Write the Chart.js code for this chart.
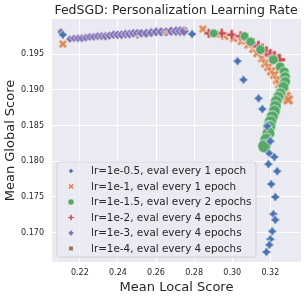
<!DOCTYPE html>
<html><head><meta charset="utf-8">
<script src="https://cdn.jsdelivr.net/npm/chart.js@4.4.0/dist/chart.umd.min.js"></script>
<style>html,body{margin:0;padding:0;background:#fff;}#wrap{width:307px;height:299px;position:relative;}</style>
</head><body><div id="wrap"><canvas id="c" width="307" height="299"></canvas></div>
<script>
// ---------- data ----------
const seriesLabels = [
  "lr=1e-0.5, eval every 1 epoch",
  "lr=1e-1, eval every 1 epoch",
  "lr=1e-1.5, eval every 2 epochs",
  "lr=1e-2, eval every 4 epochs",
  "lr=1e-3, eval every 4 epochs",
  "lr=1e-4, eval every 4 epochs"
];
const xTicks = [0.22, 0.24, 0.26, 0.28, 0.30, 0.32];
const yTicks = [0.170, 0.175, 0.180, 0.185, 0.190, 0.195];

const lr05Local  = [0.2111,0.2789,0.3028,0.3059,0.3138,0.3158,0.3184,0.3200,0.3195,0.3221,0.3190,0.3236,0.3205,0.3226,0.3216,0.3226,0.3210,0.3200,0.3195,0.3179];
const lr05Global = [0.1977,0.1978,0.1940,0.1914,0.1888,0.1873,0.1849,0.1828,0.1811,0.1806,0.1796,0.1786,0.1768,0.1750,0.1726,0.1718,0.1702,0.1691,0.1683,0.1673];

const lr1Local  = [0.2111,0.2648,0.2846,0.2914,0.2960,0.3007,0.3049,0.3085,0.3111,0.3132,0.3158,0.3174,0.3190,0.3205,0.3221,0.3236,0.3247,0.3257,0.3273,0.3283,0.3294];
const lr1Global = [0.1964,0.1980,0.1985,0.1978,0.1975,0.1972,0.1968,0.1963,0.1957,0.1951,0.1944,0.1937,0.1932,0.1926,0.1921,0.1914,0.1908,0.1902,0.1897,0.1891,0.1886];

const lr15Local  = [0.2903,0.3065,0.3096,0.3148,0.3216,0.3252,0.3273,0.3278,0.3278,0.3268,0.3252,0.3242,0.3231,0.3226,0.3221,0.3210,0.3200,0.3195,0.3190,0.3179,0.3169];
const lr15Global = [0.1979,0.1975,0.1967,0.1956,0.1942,0.1932,0.1925,0.1918,0.1911,0.1904,0.1895,0.1890,0.1884,0.1877,0.1870,0.1862,0.1855,0.1848,0.1839,0.1830,0.1821];

const lr2Local  = [0.2502,0.2757,0.2877,0.2945,0.2997,0.3044,0.3075,0.3111,0.3138,0.3158,0.3179,0.3200,0.3221,0.3247];
const lr2Global = [0.1973,0.1986,0.1979,0.1979,0.1977,0.1975,0.1971,0.1965,0.1961,0.1957,0.1953,0.1949,0.1946,0.1942];

const lr3Local  = [0.2101,0.2148,0.2169,0.2190,0.2210,0.2231,0.2252,0.2273,0.2294,0.2315,0.2335,0.2356,0.2377,0.2398,0.2419,0.2440,0.2460,0.2481,0.2502,0.2523,0.2549,0.2575,0.2601,0.2627,0.2653,0.2679,0.2705,0.2726,0.2747];
const lr3Global = [0.1981,0.1971,0.1972,0.1972,0.1972,0.1973,0.1974,0.1974,0.1975,0.1975,0.1975,0.1976,0.1977,0.1977,0.1977,0.1978,0.1978,0.1979,0.1979,0.1979,0.1979,0.1980,0.1981,0.1981,0.1981,0.1982,0.1982,0.1982,0.1982];

const lr4Local  = [0.2101];
const lr4Global = [0.1981];

// ---------- styling ----------
const colors = ['#4c72b0','#dd8452','#55a868','#c44e52','#8172b3','#937860'];
const shapes = ['star4','x','circle','plus','diamond','square'];
const sizeRange = [[10.5,10.5],[9.5,12],[9,13.5],[9.5,12.5],[8.5,11],[8,8]];
const tinyIdx = [[],[1],[],[0,1],[],[]];
const drawOrder = [0,3,1,2,4,5];
const FONT = "'DejaVu Sans', sans-serif";
const TEXT = '#262626';

function polyPath(ctx, pts, x, y) {
  pts.forEach((p,i) => i ? ctx.lineTo(x+p[0], y+p[1]) : ctx.moveTo(x+p[0], y+p[1]));
  ctx.closePath();
}
function markerPath(ctx, shape, x, y, s) {
  const r = s/2;
  ctx.beginPath();
  if (shape === 'circle') { ctx.arc(x, y, r, 0, Math.PI*2); return; }
  if (shape === 'star4') {
    const pts = [];
    for (let i = 0; i < 8; i++) { const a = -Math.PI/2 + i*Math.PI/4; const rr = i%2 ? r*0.55 : r; pts.push([rr*Math.cos(a), rr*Math.sin(a)]); }
    polyPath(ctx, pts, x, y); return;
  }
  if (shape === 'diamond') { polyPath(ctx, [[0,-r],[r,0],[0,r],[-r,0]], x, y); return; }
  if (shape === 'square') { const q = r*0.75; polyPath(ctx, [[-q,-q],[q,-q],[q,q],[-q,q]], x, y); return; }
  const w = r/3;
  let pts = [[-w,-r],[w,-r],[w,-w],[r,-w],[r,w],[w,w],[w,r],[-w,r],[-w,w],[-r,w],[-r,-w],[-w,-w]];
  if (shape === 'x') {
    const c = Math.SQRT1_2;
    pts = pts.map(p => [(p[0]-p[1])*c, (p[0]+p[1])*c]);
  }
  polyPath(ctx, pts, x, y);
}
function drawMarker(ctx, shape, color, x, y, s) {
  markerPath(ctx, shape, x, y, s);
  ctx.fillStyle = color; ctx.fill();
  ctx.lineWidth = 0.7; ctx.strokeStyle = '#ffffff'; ctx.stroke();
}
const cache = {};
function markerCanvas(shape, color, s) {
  const key = shape + color + s.toFixed(1);
  if (cache[key]) return cache[key];
  const n = Math.ceil(s + 3);
  const cv = document.createElement('canvas'); cv.width = n; cv.height = n;
  drawMarker(cv.getContext('2d'), shape, color, n/2, n/2, s);
  return (cache[key] = cv);
}

const locals = [lr05Local, lr1Local, lr15Local, lr2Local, lr3Local, lr4Local];
const globals = [lr05Global, lr1Global, lr15Global, lr2Global, lr3Global, lr4Global];

const datasets = seriesLabels.map((lab, k) => ({
  label: lab,
  data: locals[k].map((v, i) => ({x: v, y: globals[k][i]})),
  order: drawOrder[k],
  pointStyle: ctx => {
    const n = locals[k].length;
    const [a, b] = sizeRange[k];
    let s = n > 1 ? a + (b - a) * ctx.dataIndex / (n - 1) : a;
    if (tinyIdx[k].includes(ctx.dataIndex)) s = 4;
    return markerCanvas(shapes[k], colors[k], s);
  },
  pointRadius: 5,
  showLine: false
}));

const bgPlugin = {
  id: 'bg',
  beforeDraw(chart) {
    const {ctx, chartArea: a} = chart;
    ctx.save(); ctx.fillStyle = '#eaeaf2';
    ctx.fillRect(a.left, a.top, a.right - a.left, a.bottom - a.top);
    ctx.restore();
  },
  afterDraw(chart) {
    const {ctx} = chart;
    ctx.save();
    ctx.fillStyle = TEXT; ctx.font = `12.5px ${FONT}`;
    ctx.textAlign = 'center'; ctx.textBaseline = 'middle';
    ctx.fillText('FedSGD: Personalization Learning Rate', 176, 10.5);
    // legend
    const bx = 57, by = 162, bw = 199, bh = 95, rr = 3;
    ctx.beginPath();
    ctx.moveTo(bx+rr, by); ctx.arcTo(bx+bw, by, bx+bw, by+bh, rr); ctx.arcTo(bx+bw, by+bh, bx, by+bh, rr);
    ctx.arcTo(bx, by+bh, bx, by, rr); ctx.arcTo(bx, by, bx+bw, by, rr); ctx.closePath();
    ctx.fillStyle = 'rgba(234,234,242,0.8)'; ctx.fill();
    ctx.strokeStyle = 'rgba(204,204,204,0.8)'; ctx.lineWidth = 1; ctx.stroke();
    ctx.font = `10.4px ${FONT}`; ctx.textAlign = 'left';
    seriesLabels.forEach((lab, k) => {
      const y = 171 + k * 15.5;
      drawMarker(ctx, shapes[k], colors[k], 71, y, 6.5);
      ctx.fillStyle = TEXT; ctx.fillText(lab, 91, y + 0.5);
    });
    ctx.restore();
  }
};

new Chart(document.getElementById('c'), {
  type: 'scatter',
  data: {datasets},
  plugins: [bgPlugin],
  options: {
    responsive: false, animation: false, devicePixelRatio: 1,
    layout: {padding: {top: 19, right: 4, left: 0, bottom: 0}},
    plugins: {legend: {display: false}, tooltip: {enabled: false}, title: {display: false}},
    scales: {
      x: {
        type: 'linear', min: 0.2054, max: 0.3361,
        afterBuildTicks: s => { s.ticks = xTicks.map(v => ({value: v})); },
        afterFit: s => { s.height = 37; },
        grid: {color: '#ffffff', lineWidth: 1, drawTicks: false},
        border: {display: false},
        ticks: {color: TEXT, font: {family: FONT, size: 8}, padding: 6, callback: v => v.toFixed(2), maxRotation: 0},
        title: {display: true, text: 'Mean Local Score', color: TEXT, font: {family: FONT, size: 13}, padding: {top: 0, bottom: 4}}
      },
      y: {
        type: 'linear', min: 0.1659, max: 0.1999,
        afterBuildTicks: s => { s.ticks = yTicks.map(v => ({value: v})); },
        afterFit: s => { s.width = 52; },
        grid: {color: '#ffffff', lineWidth: 1, drawTicks: false},
        border: {display: false},
        ticks: {color: TEXT, font: {family: FONT, size: 8}, padding: 8, callback: v => v.toFixed(3)},
        title: {display: true, text: 'Mean Global Score', color: TEXT, font: {family: FONT, size: 13}, padding: {top: 3, bottom: 0}}
      }
    }
  }
});
</script></body></html>
